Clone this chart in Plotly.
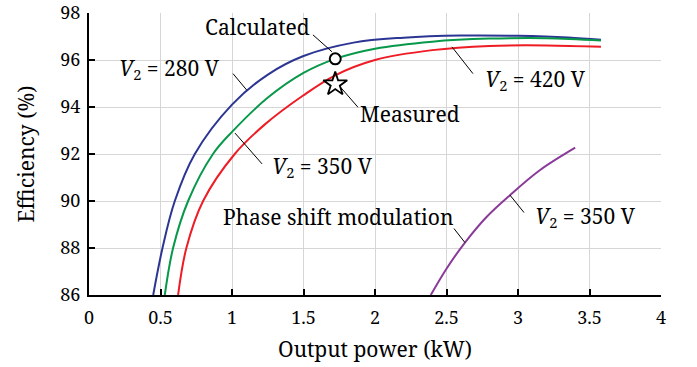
import plotly.graph_objects as go

# Efficiency curves (output power in kW, efficiency in %)
p_280 = [0.449, 0.514, 0.600, 0.740, 1.0, 1.251, 1.5, 1.85, 2.2, 2.6, 3.0, 3.35, 3.58]
eff_280 = [86.0, 88.0, 90.0, 92.0, 94.1, 95.38, 96.17, 96.74, 96.95, 97.04, 97.03, 96.96, 96.86]

p_350 = [0.53, 0.588, 0.693, 0.867, 1.0, 1.251, 1.5, 1.722, 2.0, 2.4, 2.8, 3.2, 3.58]
eff_350 = [86.0, 88.0, 90.0, 92.0, 92.94, 94.4, 95.45, 96.05, 96.48, 96.78, 96.91, 96.93, 96.83]

p_420 = [0.623, 0.681, 0.798, 1.019, 1.228, 1.5, 1.722, 2.0, 2.4, 2.8, 3.2, 3.58]
eff_420 = [86.0, 88.0, 90.0, 92.0, 93.25, 94.5, 95.35, 96.0, 96.42, 96.6, 96.62, 96.56]

p_psm = [2.39, 2.5, 2.629, 2.78, 2.944, 3.15, 3.40]
eff_psm = [86.0, 87.12, 88.23, 89.32, 90.25, 91.3, 92.27]

# Operating point: calculated vs. measured
op_power = [1.722]
op_calc = [96.05]
op_meas = [94.97]

BLUE = "#2b3592"
GREEN = "#07984a"
RED = "#ee1c25"
PURPLE = "#8a3a99"
FONT = "Noto Serif"

fig = go.Figure()
for xs, ys, col in [(p_280, eff_280, BLUE), (p_350, eff_350, GREEN),
                    (p_420, eff_420, RED), (p_psm, eff_psm, PURPLE)]:
    fig.add_trace(go.Scatter(x=xs, y=ys, mode="lines",
                             line=dict(color=col, width=2, shape="spline", smoothing=1.0),
                             showlegend=False, hoverinfo="skip"))

fig.add_trace(go.Scatter(x=op_power, y=op_calc, mode="markers",
                         marker=dict(symbol="circle", size=11, color="white",
                                     line=dict(color="black", width=2)),
                         showlegend=False))
fig.add_trace(go.Scatter(x=op_power, y=op_meas, mode="markers",
                         marker=dict(symbol="star-open", size=18, color="black",
                                     line=dict(color="black", width=1.8)),
                         showlegend=False))

# Labels and their leader lines (data coordinates)
labels = [
    ("Calculated", 1.18, 97.42, (1.566, 97.07, 1.699, 96.35)),
    ("<i>V</i><sub>2</sub> = 280 V", 0.566, 95.63, (1.007, 95.42, 1.103, 94.72)),
    ("<i>V</i><sub>2</sub> = 350 V", 1.63, 91.45, (1.021, 92.89, 1.21, 91.58)),
    ("Measured", 2.245, 93.69, (1.755, 94.87, 1.881, 93.99)),
    ("<i>V</i><sub>2</sub> = 420 V", 3.12, 95.17, (2.538, 96.56, 2.685, 95.42)),
    ("Phase shift modulation", 1.74, 89.3, (2.552, 88.83, 2.629, 88.23)),
    ("<i>V</i><sub>2</sub> = 350 V", 3.47, 89.34, (2.944, 90.25, 3.042, 89.51)),
]
for text, tx, ty, (x0, y0, x1, y1) in labels:
    fig.add_annotation(x=tx, y=ty, text=text, showarrow=False,
                       font=dict(family=FONT, size=21, color="black"))
    fig.add_shape(type="line", x0=x0, y0=y0, x1=x1, y1=y1,
                  line=dict(color="black", width=1))

axis_common = dict(showgrid=True, gridcolor="#d6d6d6", gridwidth=1,
                   zeroline=False, showline=True, linecolor="black", linewidth=2,
                   ticks="inside", ticklen=6, tickwidth=2, tickcolor="black",
                   ticklabeloverflow="allow",
                   tickfont=dict(family=FONT, size=18, color="black"))

fig.update_layout(
    width=697, height=367,
    margin=dict(l=89, r=36, t=13, b=72, autoexpand=False),
    paper_bgcolor="white", plot_bgcolor="white",
    font=dict(family=FONT),
    xaxis=dict(range=[0, 4], dtick=0.5, tick0=0, ticklabelstandoff=5,
               title=dict(text="Output power (kW)", font=dict(family=FONT, size=21, color="black"),
                          standoff=15),
               **axis_common),
    yaxis=dict(range=[86, 98], dtick=2, tick0=86, ticklabelstandoff=3,
               title=dict(text="Efficiency (%)", font=dict(family=FONT, size=21, color="black"),
                          standoff=20),
               **axis_common),
)

fig.write_html("out.html")
